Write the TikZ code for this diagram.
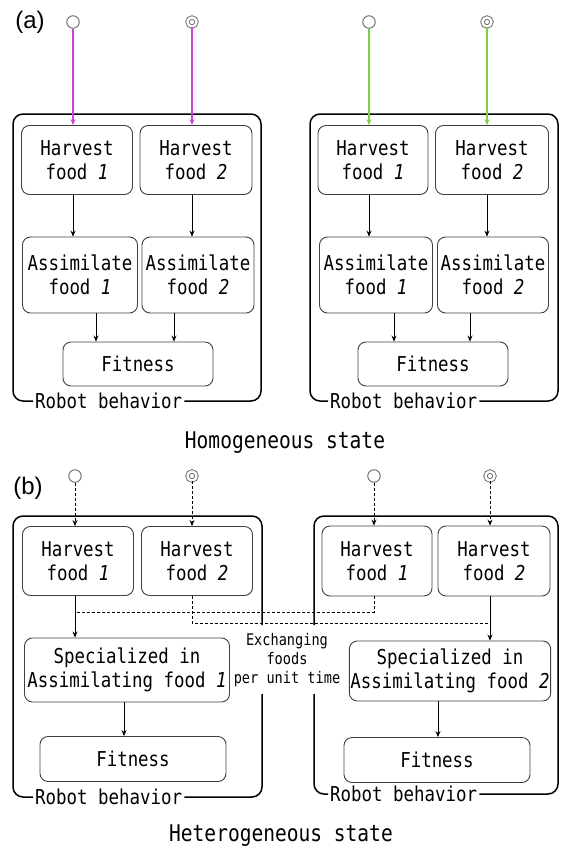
\documentclass[tikz,border=0pt]{standalone}
\usepackage{fontspec}
\setmainfont{Liberation Sans}
\newfontfamily\robotfont[FakeStretch=0.85]{DejaVu Sans Mono}
\usetikzlibrary{arrows.meta, calc}
\definecolor{feedI} {RGB}{200,70,215}
\definecolor{feedII}{RGB}{125,205,70}
\colorlet{boxline}{black!75}
\newcommand\fd[1]{food \textit{#1}}
\tikzset{
  task/.style={draw=boxline, rounded corners=8pt, align=center, inner sep=1pt,
    line width=0.9pt, font={\robotfont\fontsize{20.5}{24}\selectfont}},
  frame/.style={draw=black, rounded corners=10pt, line width=1.5pt},
  tag/.style={inner sep=2pt, anchor=west, font={\robotfont\fontsize{20.5}{24}\selectfont}},
  srcI/.style={circle, draw=black!60, line width=0.9pt, minimum size=12.5pt, inner sep=0pt},
  srcII/.style={srcI, double, double distance=2.4pt, minimum size=9pt},
  flow/.style={-{Stealth[length=6pt,width=5pt]}, line width=0.8pt},
  feed/.style={flow, draw=#1, line width=1.3pt},
  swap/.style={densely dashed, line width=0.8pt},
}

\begin{document}
\begin{tikzpicture}[x=1pt, y=-1pt]
\useasboundingbox (0,0) rectangle (562,855);
% ---------------- (a) homogeneous ----------------
\node[font=\fontsize{24}{26}\selectfont] (alab) at (30,22) {(a)};
% left robot
\node[srcI]  (aLsrc1) at (73,22) {};
\node[srcII] (aLsrc2) at (192,22) {};
\node[task, minimum width=111pt, minimum height=69pt] (aLharv1) at (77,160) {Harvest\\\fd{1}};
\node[task, minimum width=112pt, minimum height=69pt] (aLharv2) at (196,160) {Harvest\\\fd{2}};
\node[task, minimum width=115pt, minimum height=76pt] (aLasm1) at (80,275) {Assimilate\\\fd{1}};
\node[task, minimum width=112pt, minimum height=76pt] (aLasm2) at (198,275) {Assimilate\\\fd{2}};
\node[task, minimum width=150pt, minimum height=44pt] (aLfit) at (138,364) {Fitness};
\node[tag] (aLtag) at (33,401) {Robot behavior};
\draw[frame] (aLtag.east) -| (261,114) -| (13,401) -- (aLtag.west);
\draw[feed=feedI] (aLsrc1) -- (aLsrc1 |- aLharv1.north);
\draw[feed=feedI] (aLsrc2) -- (aLsrc2 |- aLharv2.north);
\draw[flow] (aLharv1.south -| aLsrc1) -- (aLsrc1 |- aLasm1.north);
\draw[flow] (aLharv2.south -| aLsrc2) -- (aLsrc2 |- aLasm2.north);
\coordinate (aLin1) at ([xshift=-42pt]aLfit.north);
\coordinate (aLin2) at ([xshift=36pt]aLfit.north);
\draw[flow] (aLasm1.south -| aLin1) -- (aLin1);
\draw[flow] (aLasm2.south -| aLin2) -- (aLin2);
% right robot
\node[srcI]  (aRsrc1) at (369,22) {};
\node[srcII] (aRsrc2) at (487,22) {};
\node[task, minimum width=110pt, minimum height=69pt] (aRharv1) at (373,160) {Harvest\\\fd{1}};
\node[task, minimum width=113pt, minimum height=69pt] (aRharv2) at (492,160) {Harvest\\\fd{2}};
\node[task, minimum width=113pt, minimum height=76pt] (aRasm1) at (376,275) {Assimilate\\\fd{1}};
\node[task, minimum width=111pt, minimum height=76pt] (aRasm2) at (493,275) {Assimilate\\\fd{2}};
\node[task, minimum width=150pt, minimum height=44pt] (aRfit) at (433,364) {Fitness};
\node[tag] (aRtag) at (328,401) {Robot behavior};
\draw[frame] (aRtag.east) -| (558,114) -| (310,401) -- (aRtag.west);
\draw[feed=feedII] (aRsrc1) -- (aRsrc1 |- aRharv1.north);
\draw[feed=feedII] (aRsrc2) -- (aRsrc2 |- aRharv2.north);
\draw[flow] (aRharv1.south -| aRsrc1) -- (aRsrc1 |- aRasm1.north);
\draw[flow] (aRharv2.south -| aRsrc2) -- (aRsrc2 |- aRasm2.north);
\coordinate (aRin1) at ([xshift=-39pt]aRfit.north);
\coordinate (aRin2) at ([xshift=37pt]aRfit.north);
\draw[flow] (aRasm1.south -| aRin1) -- (aRin1);
\draw[flow] (aRasm2.south -| aRin2) -- (aRin2);
\node[font={\robotfont\fontsize{23}{26}\selectfont}] (acap) at (285,443) {Homogeneous state};
% ---------------- (b) heterogeneous ----------------
\node[font=\fontsize{24}{26}\selectfont] (blab) at (28,488) {(b)};
% left robot
\node[srcI]  (bLsrc1) at (75,476) {};
\node[srcII] (bLsrc2) at (192,476) {};
\node[task, minimum width=111pt, minimum height=69pt] (bLharv1) at (78,561) {Harvest\\\fd{1}};
\node[task, minimum width=111pt, minimum height=69pt] (bLharv2) at (197,561) {Harvest\\\fd{2}};
\node[task, minimum width=205pt, minimum height=64pt] (bLspec) at (127,670) {Specialized in\\Assimilating \fd{1}};
\node[task, minimum width=186pt, minimum height=45pt] (bLfit) at (133,759) {Fitness};
\node[tag] (bLtag) at (33,797) {Robot behavior};
\draw[frame] (bLtag.east) -| (262,694);
\draw[frame] (262,625) -- (262,516) -- (13,516) -- (13,797) -- (bLtag.west);
\draw[flow, densely dashed] (bLsrc1) -- (bLsrc1 |- bLharv1.north);
\draw[flow, densely dashed] (bLsrc2) -- (bLsrc2 |- bLharv2.north);
\draw[flow] (bLharv1.south -| bLsrc1) -- (bLsrc1 |- bLspec.north);
\coordinate (bLin) at ([xshift=-9pt]bLfit.north);
\draw[flow] (bLspec.south -| bLin) -- (bLin);
% right robot
\node[srcI]  (bRsrc1) at (374,476) {};
\node[srcII] (bRsrc2) at (490,476) {};
\node[task, minimum width=110pt, minimum height=70pt] (bRharv1) at (377,561) {Harvest\\\fd{1}};
\node[task, minimum width=112pt, minimum height=70pt] (bRharv2) at (494,561) {Harvest\\\fd{2}};
\node[task, minimum width=200pt, minimum height=60pt] (bRspec) at (450,671) {Specialized in\\Assimilating \fd{2}};
\node[task, minimum width=186pt, minimum height=45pt] (bRfit) at (437,760) {Fitness};
\node[tag] (bRtag) at (328,794) {Robot behavior};
\draw[frame] (bRtag.west) -| (314,694);
\draw[frame] (314,625) -- (314,516) -- (558,516) -- (558,794) -- (bRtag.east);
\draw[flow, densely dashed] (bRsrc1) -- (bRsrc1 |- bRharv1.north);
\draw[flow, densely dashed] (bRsrc2) -- (bRsrc2 |- bRharv2.north);
\draw[flow] (bRharv2.south -| bRsrc2) -- (bRsrc2 |- bRspec.north);
\coordinate (bRin) at ([xshift=1pt]bRfit.north);
\draw[flow] (bRspec.south -| bRin) -- (bRin);
% food exchange between the two robots
\coordinate (swapI)  at (0,612);
\coordinate (swapII) at (0,623);
\draw[swap] (bRharv1.south -| bRsrc1) |- (bLsrc1 |- swapI);
\draw[swap] (bLharv2.south -| bLsrc2) |- (bRsrc2 |- swapII);
\node[align=center, font={\robotfont\fontsize{16}{19}\selectfont}] (swaptext) at (287,660)
  {Exchanging\\foods\\per unit time};
\node[font={\robotfont\fontsize{23}{26}\selectfont}] (bcap) at (281,836) {Heterogeneous state};
\end{tikzpicture}
\end{document}
